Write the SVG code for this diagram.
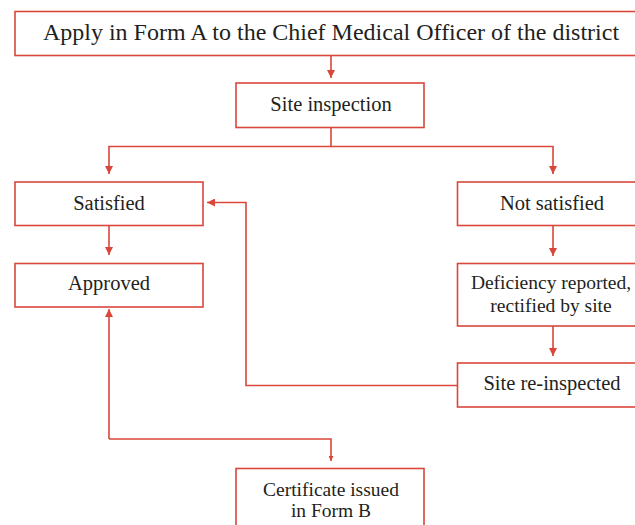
<svg xmlns="http://www.w3.org/2000/svg" width="635" height="525" viewBox="0 0 635 525">
<style>
.box{fill:#fff;stroke:#d9473b;stroke-width:1.6}
.ln{fill:none;stroke:#d9473b;stroke-width:1.6}
text{font-family:"Liberation Serif","Times New Roman",serif;fill:#231f20;text-anchor:middle}
.big{font-size:24px}
.t{font-size:20.5px}
.s{font-size:19.5px}
</style>
<defs>
<marker id="ah" markerWidth="8" markerHeight="8" refX="8" refY="4" orient="auto" markerUnits="userSpaceOnUse">
<path d="M0,0 L8,4 L0,8 Z" fill="#d9473b"/>
</marker>
<marker id="ahs" markerWidth="5" markerHeight="5" refX="5" refY="2.5" orient="auto" markerUnits="userSpaceOnUse">
<path d="M0,0 L5,2.5 L0,5 Z" fill="#d9473b"/>
</marker>
</defs>
<g id="connectors">
<path class="ln" d="M331,56 V78" marker-end="url(#ah)"/>
<path class="ln" d="M331,128 V146.5 H109 V174" marker-end="url(#ah)"/>
<path class="ln" d="M331,146.5 H553 V174" marker-end="url(#ah)"/>
<path class="ln" d="M109,226 V255" marker-end="url(#ah)"/>
<path class="ln" d="M553,226 V256" marker-end="url(#ah)"/>
<path class="ln" d="M553,326 V356" marker-end="url(#ah)"/>
<path class="ln" d="M457.5,385.5 H246 V202.5 H207" marker-end="url(#ah)"/>
<path class="ln" d="M109,439 V309" marker-end="url(#ah)"/>
<path class="ln" d="M109,439 H331 V461" marker-end="url(#ahs)"/>
</g>
<g id="apply">
<rect class="box" x="15" y="11.5" width="630" height="44"/>
<text class="big" x="331" y="40">Apply in Form A to the Chief Medical Officer of the district</text>
</g>
<g id="site-inspection">
<rect class="box" x="236" y="83" width="188" height="44.5"/>
<text class="t" x="331" y="111">Site inspection</text>
</g>
<g id="satisfied">
<rect class="box" x="15" y="182" width="188" height="43.5"/>
<text class="t" x="109" y="210">Satisfied</text>
</g>
<g id="not-satisfied">
<rect class="box" x="457.5" y="182" width="190" height="43.5"/>
<text class="t" x="552" y="210">Not satisfied</text>
</g>
<g id="approved">
<rect class="box" x="15" y="263.5" width="188" height="43.5"/>
<text class="t" x="109" y="290">Approved</text>
</g>
<g id="deficiency">
<rect class="box" x="457.5" y="263.5" width="190" height="62.5"/>
<text class="s" x="551" y="288.5">Deficiency reported,</text>
<text class="s" x="551" y="311.5">rectified by site</text>
</g>
<g id="site-reinspected">
<rect class="box" x="457.5" y="363" width="190" height="44"/>
<text class="t" x="552" y="390">Site re-inspected</text>
</g>
<g id="certificate">
<rect class="box" x="236" y="468.5" width="188" height="70"/>
<text class="s" x="331" y="495.5">Certificate issued</text>
<text class="s" x="331" y="516.5">in Form B</text>
</g>
</svg>
